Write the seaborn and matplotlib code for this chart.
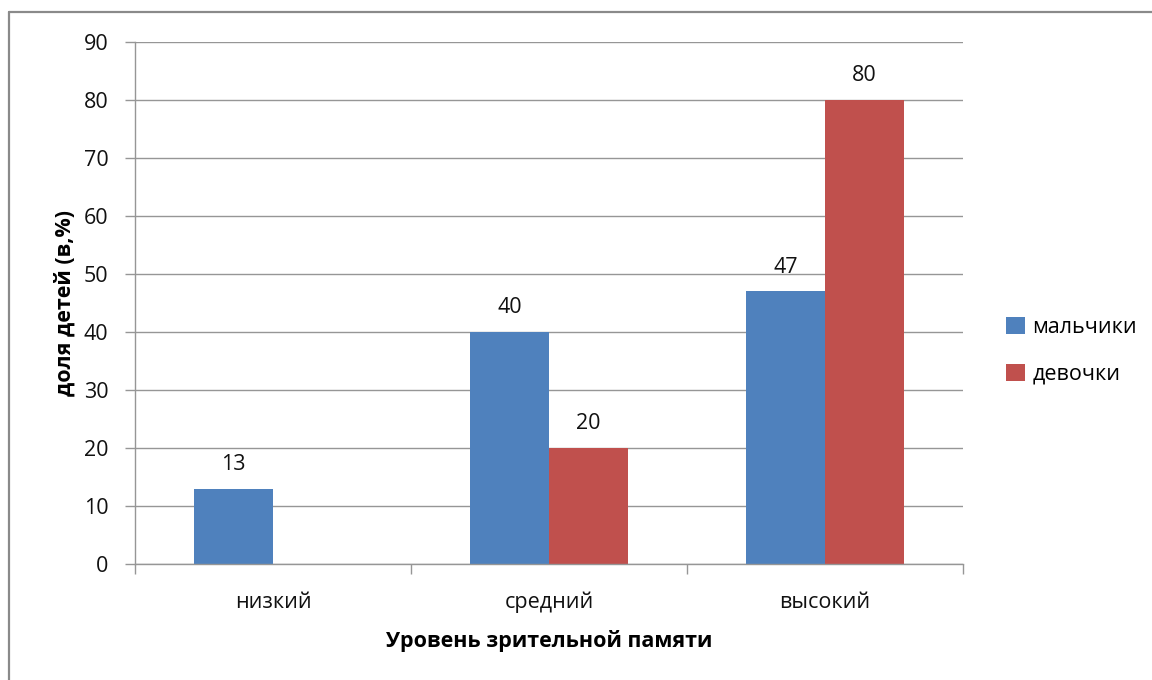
import pandas as pd
import matplotlib.pyplot as plt
import seaborn as sns
from matplotlib.lines import Line2D
from matplotlib.patches import Patch

# данные
levels = ["низкий", "средний", "высокий"]
boys = [13, 40, 47]
girls = [0, 20, 80]
groups = ["мальчики", "девочки"]

df = pd.DataFrame({
    "level": levels * 2,
    "group": [groups[0]] * 3 + [groups[1]] * 3,
    "value": boys + girls,
})

sns.set_style("white")
plt.rcParams["font.family"] = ["Open Sans", "DejaVu Sans"]
plt.rcParams["text.color"] = "#000000"

colors = ["#4F81BD", "#C0504D"]
grid_c = "#969696"
fs = 15.5

fig = plt.figure(figsize=(11.52, 6.8), dpi=100)
ax = fig.add_axes([135 / 1152, 1 - 564 / 680, (963 - 135) / 1152, (564 - 42) / 680])

sns.barplot(data=df, x="level", y="value", hue="group", palette=colors,
            width=0.573, gap=0, ax=ax, legend=False, saturation=1,
            edgecolor="none")

ax.set_ylim(0, 90)
ax.set_xlim(-0.5, 2.5)
ax.set_yticks(range(0, 91, 10))
ax.yaxis.grid(True, color=grid_c, linewidth=1)
ax.set_axisbelow(True)
for s in ["top", "right"]:
    ax.spines[s].set_visible(False)
for s in ["left", "bottom"]:
    ax.spines[s].set_color(grid_c)
    ax.spines[s].set_linewidth(1)

ax.tick_params(axis="y", length=7, width=1, color=grid_c, pad=12,
               labelsize=fs, labelcolor="#111111", left=True)
ax.set_xticks([-0.5, 0.5, 1.5, 2.5], minor=True)
ax.tick_params(axis="x", which="minor", length=7, width=1, color=grid_c,
               bottom=True)
ax.tick_params(axis="x", which="major", length=0, pad=20, labelsize=fs,
               labelcolor="#111111")

# подписи значений
for cont in ax.containers:
    labels = [f"{v:.0f}" if v > 0 else "" for v in cont.datavalues]
    ax.bar_label(cont, labels=labels, padding=10, fontsize=fs, color="#111111")

ax.set_xlabel("Уровень зрительной памяти", fontsize=fs, fontweight="bold",
              labelpad=12, color="#000000")
ax.set_ylabel("доля детей (в,%)", fontsize=fs, fontweight="bold", labelpad=6,
              color="#000000")

handles = [Patch(facecolor=c, edgecolor="none") for c in colors]
fig.legend(handles, groups, loc="center left", bbox_to_anchor=(987 / 1152, 1 - 351 / 680),
           frameon=False, fontsize=fs, handlelength=0.85, handleheight=0.85,
           handletextpad=0.35, labelspacing=1.2)

# рамка
fig.add_artist(Line2D([9 / 1152, 1], [1 - 12 / 680] * 2, color="#8a8a8a", linewidth=1.6))
fig.add_artist(Line2D([9 / 1152] * 2, [0, 1 - 12 / 680], color="#8a8a8a", linewidth=1.6))

plt.savefig("out.png", dpi=100)
plt.close()
